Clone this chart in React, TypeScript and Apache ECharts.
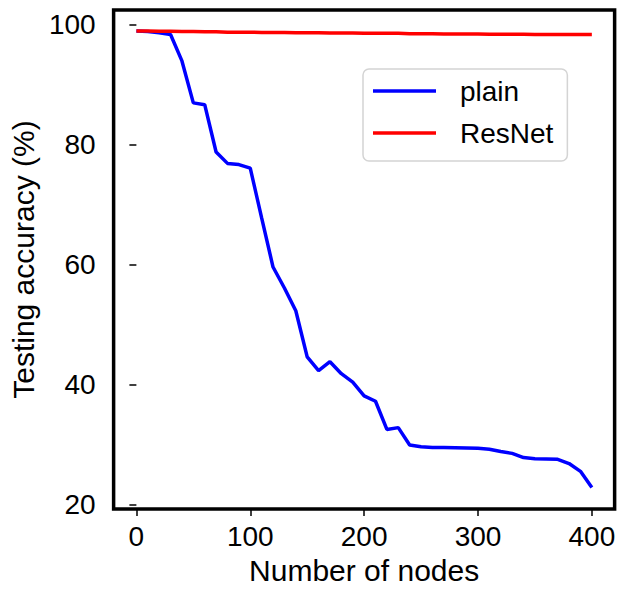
import React, { useEffect, useRef } from "react";
import * as echarts from "echarts";

// Number of nodes on the x axis (every 10 from 0 to 400)
const nodes: number[] = [
  0, 10, 20, 30, 40, 50, 60, 70, 80, 90, 100, 110, 120, 130, 140, 150, 160, 170, 180, 190, 200,
  210, 220, 230, 240, 250, 260, 270, 280, 290, 300, 310, 320, 330, 340, 350, 360, 370, 380, 390, 400,
];

// Testing accuracy (%) of the plain network
const plainAcc: number[] = [
  99.0, 98.9, 98.7, 98.4, 94.0, 87.0, 86.7, 78.8, 76.9, 76.7, 76.1, 67.8, 59.6, 56.1, 52.3, 44.6,
  42.3, 43.8, 41.8, 40.4, 38.1, 37.2, 32.5, 32.8, 29.9, 29.6, 29.5, 29.5, 29.45, 29.4, 29.35, 29.2,
  28.8, 28.5, 27.8, 27.6, 27.55, 27.5, 26.8, 25.5, 22.8,
];

// Testing accuracy (%) of the ResNet
const resnetAcc: number[] = [
  99.0, 99.0, 98.95, 98.95, 98.9, 98.9, 98.85, 98.85, 98.8, 98.8, 98.8, 98.75, 98.75, 98.75, 98.7,
  98.7, 98.7, 98.65, 98.65, 98.65, 98.6, 98.6, 98.6, 98.6, 98.55, 98.55, 98.55, 98.5, 98.5, 98.5,
  98.5, 98.45, 98.45, 98.45, 98.45, 98.4, 98.4, 98.4, 98.4, 98.4, 98.4,
];

const xTicks: number[] = [0, 100, 200, 300, 400];
const yTicks: number[] = [20, 40, 60, 80, 100];

const FONT = "'Liberation Sans', Arial, Helvetica, sans-serif";

export default function App() {
  const ref = useRef<HTMLDivElement>(null);

  useEffect(() => {
    if (!ref.current) return;
    const chart = echarts.init(ref.current, undefined, { renderer: "svg" });

    const pairs = (ys: number[]) => nodes.map((x, i) => [x, ys[i]]);

    chart.setOption({
      animation: false,
      backgroundColor: "#ffffff",
      grid: {
        left: 109,
        right: 3,
        top: 10,
        bottom: 71,
        show: true,
        borderColor: "#000000",
        borderWidth: 3.5,
        backgroundColor: "transparent",
      },
      legend: {
        orient: "vertical",
        left: 363,
        top: 69,
        padding: [8, 14, 14, 10],
        itemGap: 14,
        icon: "rect",
        itemWidth: 63,
        itemHeight: 3.5,
        backgroundColor: "#ffffff",
        borderColor: "#d4d4d4",
        borderWidth: 1.5,
        borderRadius: 6,
        textStyle: {
          fontFamily: FONT,
          fontSize: 28,
          color: "#000000",
          padding: [0, 0, 0, 19],
        },
        data: ["plain", "ResNet"],
      },
      xAxis: {
        type: "value",
        min: -20,
        max: 420,
        name: "Number of nodes",
        nameLocation: "middle",
        nameGap: 40,
        nameTextStyle: { fontFamily: FONT, fontSize: 30, color: "#000000" },
        axisLine: { show: false },
        splitLine: { show: false },
        axisTick: {
          show: true,
          inside: false,
          length: 7,
          customValues: xTicks,
          lineStyle: { color: "#000000", width: 1.5 },
        },
        axisLabel: {
          customValues: xTicks,
          margin: 13,
          fontFamily: FONT,
          fontSize: 28,
          color: "#000000",
        },
      },
      yAxis: {
        type: "value",
        min: 19.2,
        max: 102.5,
        name: "Testing accuracy (%)",
        nameLocation: "middle",
        nameGap: 72,
        nameTextStyle: { fontFamily: FONT, fontSize: 30, color: "#000000" },
        axisLine: { show: false },
        splitLine: { show: false },
        axisTick: {
          show: true,
          inside: false,
          length: 7,
          customValues: yTicks,
          lineStyle: { color: "#000000", width: 1.5 },
        },
        axisLabel: {
          customValues: yTicks,
          margin: 18,
          fontFamily: FONT,
          fontSize: 28,
          color: "#000000",
        },
      },
      series: [
        {
          name: "plain",
          type: "line",
          data: pairs(plainAcc),
          symbol: "none",
          lineStyle: { color: "#0000ff", width: 3.5 },
          itemStyle: { color: "#0000ff" },
          z: 3,
        },
        {
          name: "ResNet",
          type: "line",
          data: pairs(resnetAcc),
          symbol: "none",
          lineStyle: { color: "#ff0000", width: 3.5 },
          itemStyle: { color: "#ff0000" },
          z: 4,
        },
      ],
    });

    return () => chart.dispose();
  }, []);

  return (
    <div
      ref={ref}
      style={{ position: "absolute", left: 0, top: 0, width: 618, height: 590, background: "#fff" }}
    />
  );
}
